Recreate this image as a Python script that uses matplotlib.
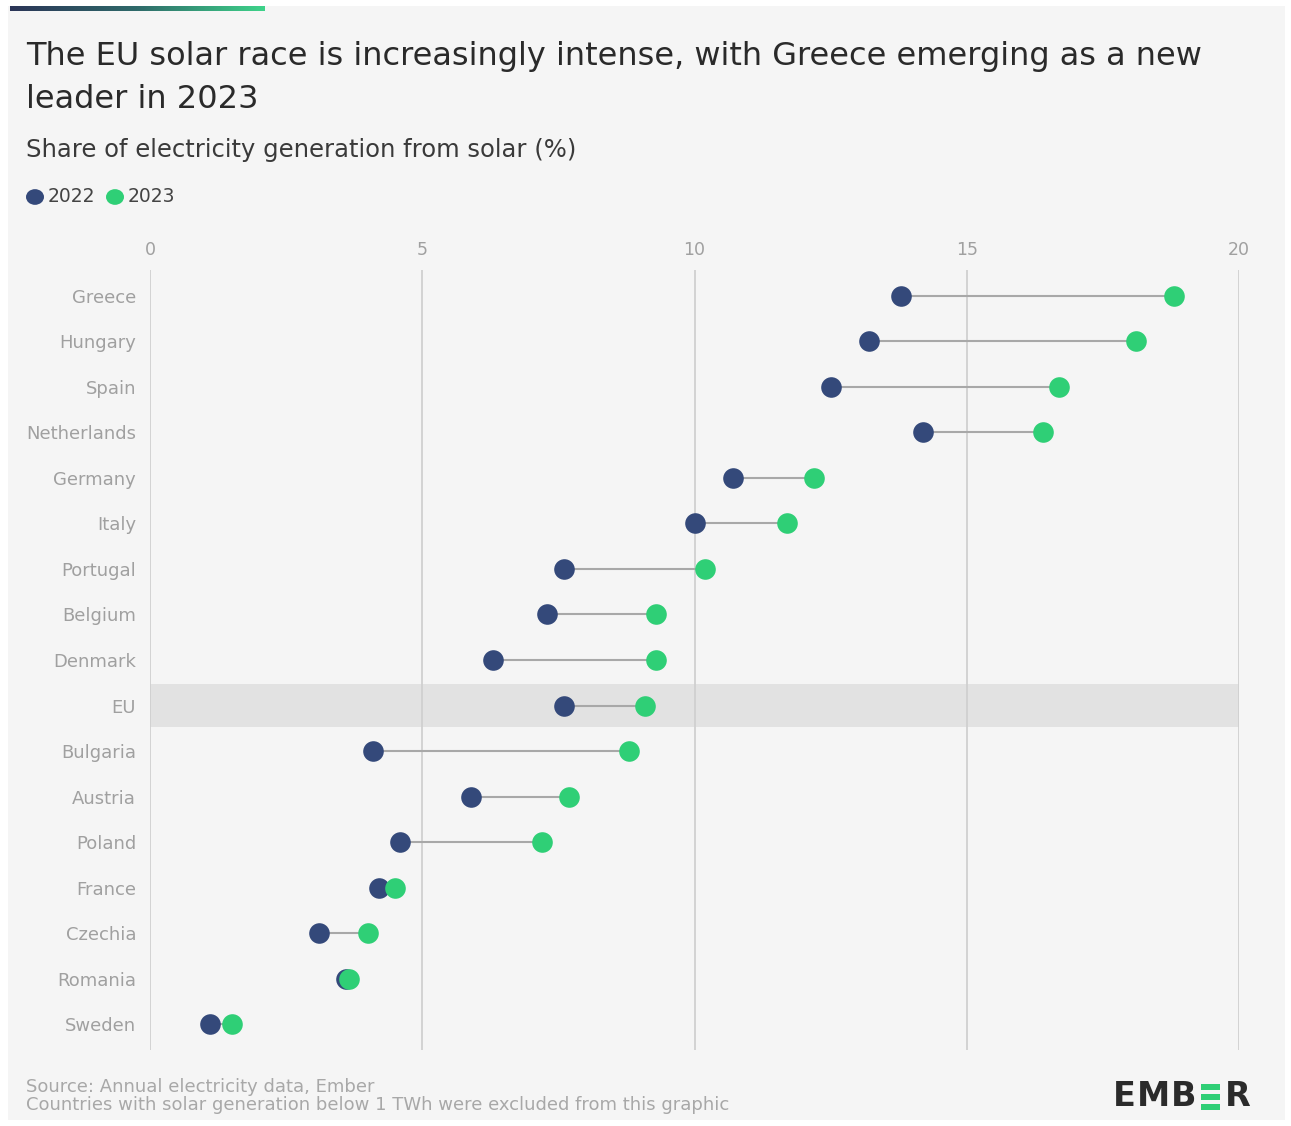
import numpy as np
import matplotlib
matplotlib.use("Agg")
import matplotlib.pyplot as plt
from matplotlib.patches import Rectangle
from matplotlib.colors import LinearSegmentedColormap

countries = ["Greece", "Hungary", "Spain", "Netherlands", "Germany", "Italy",
             "Portugal", "Belgium", "Denmark", "EU", "Bulgaria", "Austria",
             "Poland", "France", "Czechia", "Romania", "Sweden"]
share_2022 = [13.8, 13.2, 12.5, 14.2, 10.7, 10.0, 7.6, 7.3, 6.3, 7.6, 4.1,
              5.9, 4.6, 4.2, 3.1, 3.6, 1.1]
share_2023 = [18.8, 18.1, 16.7, 16.4, 12.2, 11.7, 10.2, 9.3, 9.3, 9.1, 8.8,
              7.7, 7.2, 4.5, 4.0, 3.65, 1.5]
xticks = [0, 5, 10, 15, 20]

NAVY = "#34497a"
GREEN = "#2fcf76"
BG = "#f5f5f5"
plt.rcParams["font.family"] = ["DejaVu Sans"]

W, H = 1291, 1126
fig = plt.figure(figsize=(W / 100, H / 100), dpi=100, facecolor="white")

# light panel behind everything
fig.patches.append(Rectangle((8 / W, 6 / H), (W - 14) / W, (H - 12) / H,
                             transform=fig.transFigure, facecolor=BG,
                             edgecolor="none", zorder=-10))

# gradient strip top-left
gax = fig.add_axes([10 / W, 1 - 11 / H, 255 / W, 5 / H])
cmap = LinearSegmentedColormap.from_list("g", ["#2b3557", "#2f6a6a", "#3ed38a"])
gax.imshow(np.linspace(0, 1, 256)[None, :], aspect="auto", cmap=cmap)
gax.axis("off")

# titles
fig.text(26 / W, 1 - 65 / H, "The EU solar race is increasingly intense, with Greece emerging as a new",
         fontsize=23, color="#2a2a2a", va="baseline")
fig.text(26 / W, 1 - 108 / H, "leader in 2023", fontsize=23, color="#2a2a2a", va="baseline")
fig.text(26 / W, 1 - 157 / H, "Share of electricity generation from solar (%)",
         fontsize=17.5, color="#3a3a3a", va="baseline")

# legend
fig.patches.append(plt.Circle((35 / W, 1 - 197 / H), 9 / W, transform=fig.transFigure,
                              facecolor=NAVY, edgecolor="none"))
fig.text(48 / W, 1 - 196 / H, "2022", fontsize=13.5, color="#444444", va="center")
fig.patches.append(plt.Circle((115 / W, 1 - 197 / H), 9 / W, transform=fig.transFigure,
                              facecolor=GREEN, edgecolor="none"))
fig.text(128 / W, 1 - 196 / H, "2023", fontsize=13.5, color="#444444", va="center")

# main chart
ax = fig.add_axes([150 / W, 1 - 1050 / H, 1089 / W, 780 / H])
ax.set_facecolor("none")
n = len(countries)
y = np.arange(n)
ax.set_xlim(0, 20)
ax.set_ylim(n - 0.43, -0.57)

for t in xticks:
    ax.axvline(t, color="#d0d0d0", lw=1.3, zorder=1)

eu = countries.index("EU")
ax.axhspan(eu - 0.47, eu + 0.47, color="#e2e2e2", zorder=0.5, lw=0)

ax.hlines(y, share_2022, share_2023, color="#a8a8a8", lw=1.5, zorder=2)
ax.scatter(share_2022, y, s=220, color=NAVY, zorder=3, clip_on=False, lw=0)
ax.scatter(share_2023, y, s=220, color=GREEN, zorder=4, clip_on=False, lw=0)

ax.set_xticks(xticks)
ax.xaxis.tick_top()
ax.tick_params(axis="x", length=0, labelsize=12.5, labelcolor="#a0a0a0", pad=8)
ax.set_yticks(y)
ax.set_yticklabels(countries)
ax.tick_params(axis="y", length=0, labelsize=13, labelcolor="#a0a0a0", pad=10)
for s in ax.spines.values():
    s.set_visible(False)

# footer
fig.text(26 / W, 1 - 1092 / H, "Source: Annual electricity data, Ember",
         fontsize=13, color="#a8a8a8", va="baseline")
fig.text(26 / W, 1 - 1110 / H, "Countries with solar generation below 1 TWh were excluded from this graphic",
         fontsize=13, color="#a8a8a8", va="baseline")

# logo: letters placed one after another, middle E drawn as three green bars
renderer = fig.canvas.get_renderer()
logo_y = 1 - 1097 / H
px = 1113
for letter in ["E", "M", "B", None, "R"]:
    if letter is None:
        px += 3
        for dy in (-10, 0, 10):
            fig.patches.append(Rectangle((px / W, (1 - (1097 + dy) / H) - 3 / H), 19 / W, 6 / H,
                                         transform=fig.transFigure, facecolor=GREEN,
                                         edgecolor="none"))
        px += 24
        continue
    t = fig.text(px / W, logo_y, letter, fontsize=24, fontweight="bold",
                 color="#2b2b2b", va="center", ha="left")
    px = t.get_window_extent(renderer).x1 + 1

fig.savefig("out.png", dpi=100, facecolor=fig.get_facecolor())
